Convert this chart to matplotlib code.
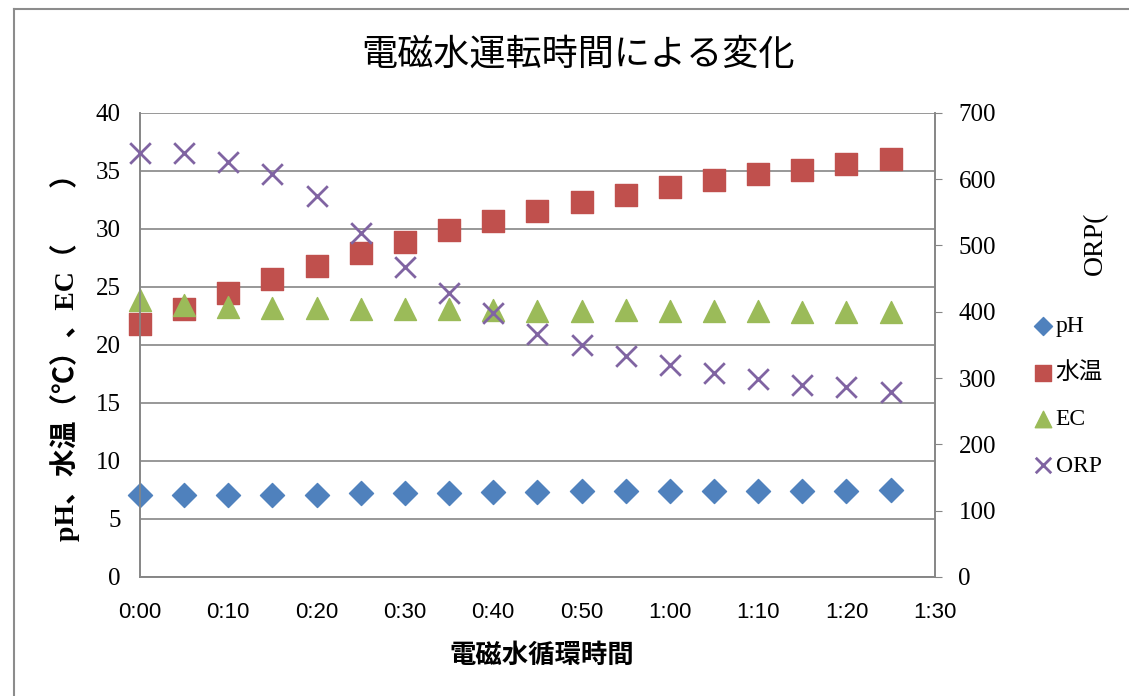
import matplotlib.pyplot as plt
import numpy as np

# time in minutes (0:00 .. 1:25, every 5 min)
minutes = np.arange(0, 90, 5)

ph = [7.1, 7.1, 7.1, 7.1, 7.1, 7.2, 7.2, 7.2, 7.3, 7.3, 7.4, 7.4, 7.4, 7.4, 7.4, 7.4, 7.4, 7.5]
water_temp = [21.8, 23.1, 24.5, 25.7, 26.8, 27.9, 28.9, 29.9, 30.7, 31.5, 32.3, 32.9, 33.6, 34.2, 34.7, 35.1, 35.6, 36.0]
ec = [23.9, 23.4, 23.3, 23.2, 23.2, 23.1, 23.1, 23.1, 23.0, 22.9, 22.9, 23.0, 22.9, 22.9, 22.9, 22.8, 22.8, 22.8]
orp = [640, 640, 626, 608, 574, 519, 468, 428, 398, 366, 350, 333, 320, 308, 299, 290, 287, 279]

xtick_vals = np.arange(0, 91, 10)
xtick_labels = ['0:00', '0:10', '0:20', '0:30', '0:40', '0:50', '1:00', '1:10', '1:20', '1:30']

serif = ['Liberation Serif', 'Noto Sans CJK JP']
gothic = ['Noto Sans CJK JP', 'DejaVu Sans']
narrow = ['Liberation Sans Narrow', 'Liberation Sans', 'DejaVu Sans']

fig = plt.figure(figsize=(11.29, 6.96), dpi=100)
ax = fig.add_axes([0.124, 0.171, 0.704, 0.667])
ax2 = ax.twinx()

grid_c = '#868686'

# figure frame (top and left edges visible)
fig.add_artist(plt.Line2D([0.0124, 1.0], [0.987, 0.987], transform=fig.transFigure, color='#8c8c8c', lw=1.5))
fig.add_artist(plt.Line2D([0.0124, 0.0124], [0.0, 0.987], transform=fig.transFigure, color='#8c8c8c', lw=1.5))

ax.set_xlim(0, 90)
ax.set_ylim(0, 40)
ax2.set_ylim(0, 700)

ax.set_yticks(np.arange(0, 41, 5))
ax.grid(axis='y', color=grid_c, lw=1.2)
ax.set_axisbelow(True)
ax2.set_yticks(np.arange(0, 701, 100))

for a in (ax, ax2):
    a.spines['top'].set_visible(False)
    for s in ('left', 'right', 'bottom'):
        a.spines[s].set_color(grid_c)
        a.spines[s].set_linewidth(1.2)

l1 = ax.scatter(minutes, ph, marker='D', s=150, color='#4F81BD', zorder=3, label='pH', clip_on=False)
l2 = ax.scatter(minutes, water_temp, marker='s', s=230, color='#C0504D', zorder=3, label='水温', clip_on=False)
l3 = ax.scatter(minutes, ec, marker='^', s=250, color='#9BBB59', zorder=3, label='EC', clip_on=False)
l4 = ax2.scatter(minutes, orp, marker='x', s=220, color='#8064A2', linewidths=2, zorder=3, label='ORP', clip_on=False)

ax.set_xticks(xtick_vals)
ax.set_xticklabels(xtick_labels, family=narrow, fontsize=16)
ax.tick_params(axis='x', length=0, pad=18)
ax.tick_params(axis='y', length=0, pad=14)
for t in ax.get_yticklabels():
    t.set_family(serif)
    t.set_fontsize(18)
ax2.tick_params(axis='y', length=5, color=grid_c, pad=12)
for t in ax2.get_yticklabels():
    t.set_family(serif)
    t.set_fontsize(18)

fig.text(0.512, 0.921, '電磁水運転時間による変化', family=gothic, fontsize=26, ha='center', va='center')
fig.text(0.480, 0.058, '電磁水循環時間', family=gothic, fontsize=19, fontweight='bold', ha='center', va='center')
fig.text(0.058, 0.497, 'pH、水温（℃）、EC（　　）', family=serif, fontsize=20, fontweight='bold',
         rotation=90, ha='center', va='center')
fig.text(0.970, 0.650, 'ORP(', family=serif, fontsize=20, rotation=90, ha='center', va='center')

leg = fig.legend(handles=[l1, l2, l3, l4], loc='upper left', bbox_to_anchor=(0.908, 0.56),
                 frameon=False, prop={'family': serif, 'size': 17}, labelspacing=1.05,
                 handlelength=0.7, handletextpad=0.2, markerscale=0.75, borderaxespad=0)

fig.savefig('out.png', dpi=100)
